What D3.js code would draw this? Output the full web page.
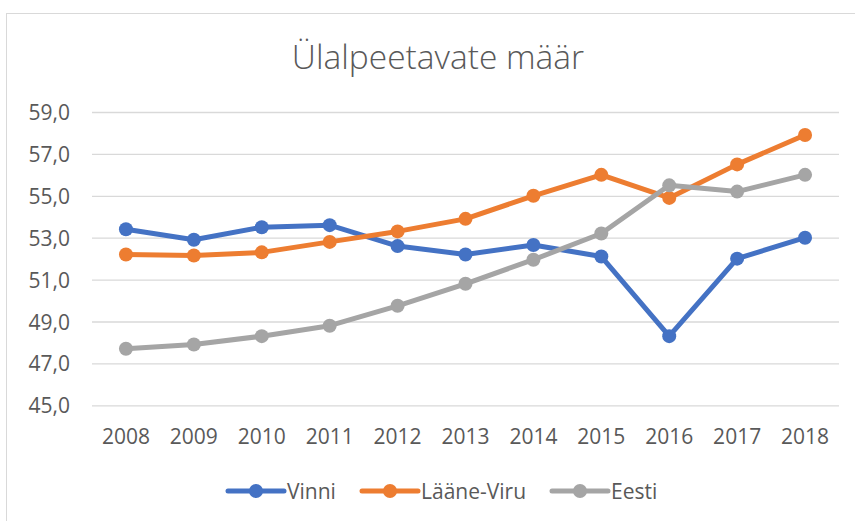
<!DOCTYPE html>
<html><head><meta charset="utf-8">
<script src="https://cdn.jsdelivr.net/npm/d3@7"></script>
<style>body{margin:0;background:#fff;} svg{display:block;font-family:"Open Sans",sans-serif;}</style>
</head><body>
<svg id="c" width="855" height="521"></svg>
<script>
const years = ["2008","2009","2010","2011","2012","2013","2014","2015","2016","2017","2018"];
const vinni = [53.4,52.9,53.5,53.6,52.6,52.2,52.65,52.1,48.3,52.0,53.0];
const laaneViru = [52.2,52.15,52.3,52.8,53.3,53.9,55.0,56.0,54.9,56.5,57.9];
const eesti = [47.7,47.9,48.3,48.8,49.75,50.8,51.95,53.2,55.5,55.2,56.0];
const seriesNames = ["Vinni","Lääne-Viru","Eesti"];
const colors = ["#4472C4","#ED7D31","#A5A5A5"];
const yTicks = [45,47,49,51,53,55,57,59];
const title = "Ülalpeetavate määr";

const svg = d3.select("#c");
svg.append("rect").attr("x",6.5).attr("y",13.5).attr("width",900).attr("height",600)
  .attr("fill","#fff").attr("stroke","#D9D9D9").attr("stroke-width",1);

const x = d3.scaleBand().domain(years).range([92,839]);
const y = d3.scaleLinear().domain([45,59]).range([405.3,112]);

svg.append("text").attr("x",438).attr("y",69).attr("text-anchor","middle")
  .attr("font-size",33.5).attr("font-weight",300).attr("fill","#595959").text(title);

const yAxis = d3.axisLeft(y).tickValues(yTicks).tickSize(-(839-92)).tickFormat(d=>d3.format(".1f")(d).replace(".",","));
const gy = svg.append("g").attr("transform","translate(92,0)").call(yAxis);
gy.select(".domain").remove();
gy.selectAll(".tick line").attr("stroke","#D9D9D9").attr("stroke-width",1.3);
gy.selectAll(".tick text").attr("x",-22).attr("dy","0.36em").attr("fill","#595959").attr("font-size",21).attr("font-family","Open Sans");

const xAxis = d3.axisBottom(x).tickSize(0);
const gx = svg.append("g").attr("transform","translate(0,405.3)").call(xAxis);
gx.select(".domain").remove();
gx.selectAll(".tick text").attr("y",38.7).attr("dy",0).attr("fill","#595959").attr("font-size",21).attr("font-family","Open Sans");

const data = [vinni, laaneViru, eesti];
const line = d3.line().x((d,i)=>x(years[i])+x.bandwidth()/2).y(d=>y(d));
data.forEach((vals,k)=>{
  svg.append("path").datum(vals).attr("d",line).attr("fill","none")
    .attr("stroke",colors[k]).attr("stroke-width",5).attr("stroke-linejoin","round").attr("stroke-linecap","round");
  svg.selectAll(null).data(vals).enter().append("circle")
    .attr("cx",(d,i)=>x(years[i])+x.bandwidth()/2).attr("cy",d=>y(d)).attr("r",7).attr("fill",colors[k]);
});

const legX = [228,362,552];
seriesNames.forEach((n,k)=>{
  const g = svg.append("g").attr("transform",`translate(${legX[k]},491)`);
  g.append("line").attr("x1",0).attr("x2",56).attr("stroke",colors[k]).attr("stroke-width",5).attr("stroke-linecap","round");
  g.append("circle").attr("cx",28).attr("r",7).attr("fill",colors[k]);
  g.append("text").attr("x",59).attr("y",7.5).attr("font-size",21).attr("fill","#595959").text(n);
});
</script>
</body></html>
